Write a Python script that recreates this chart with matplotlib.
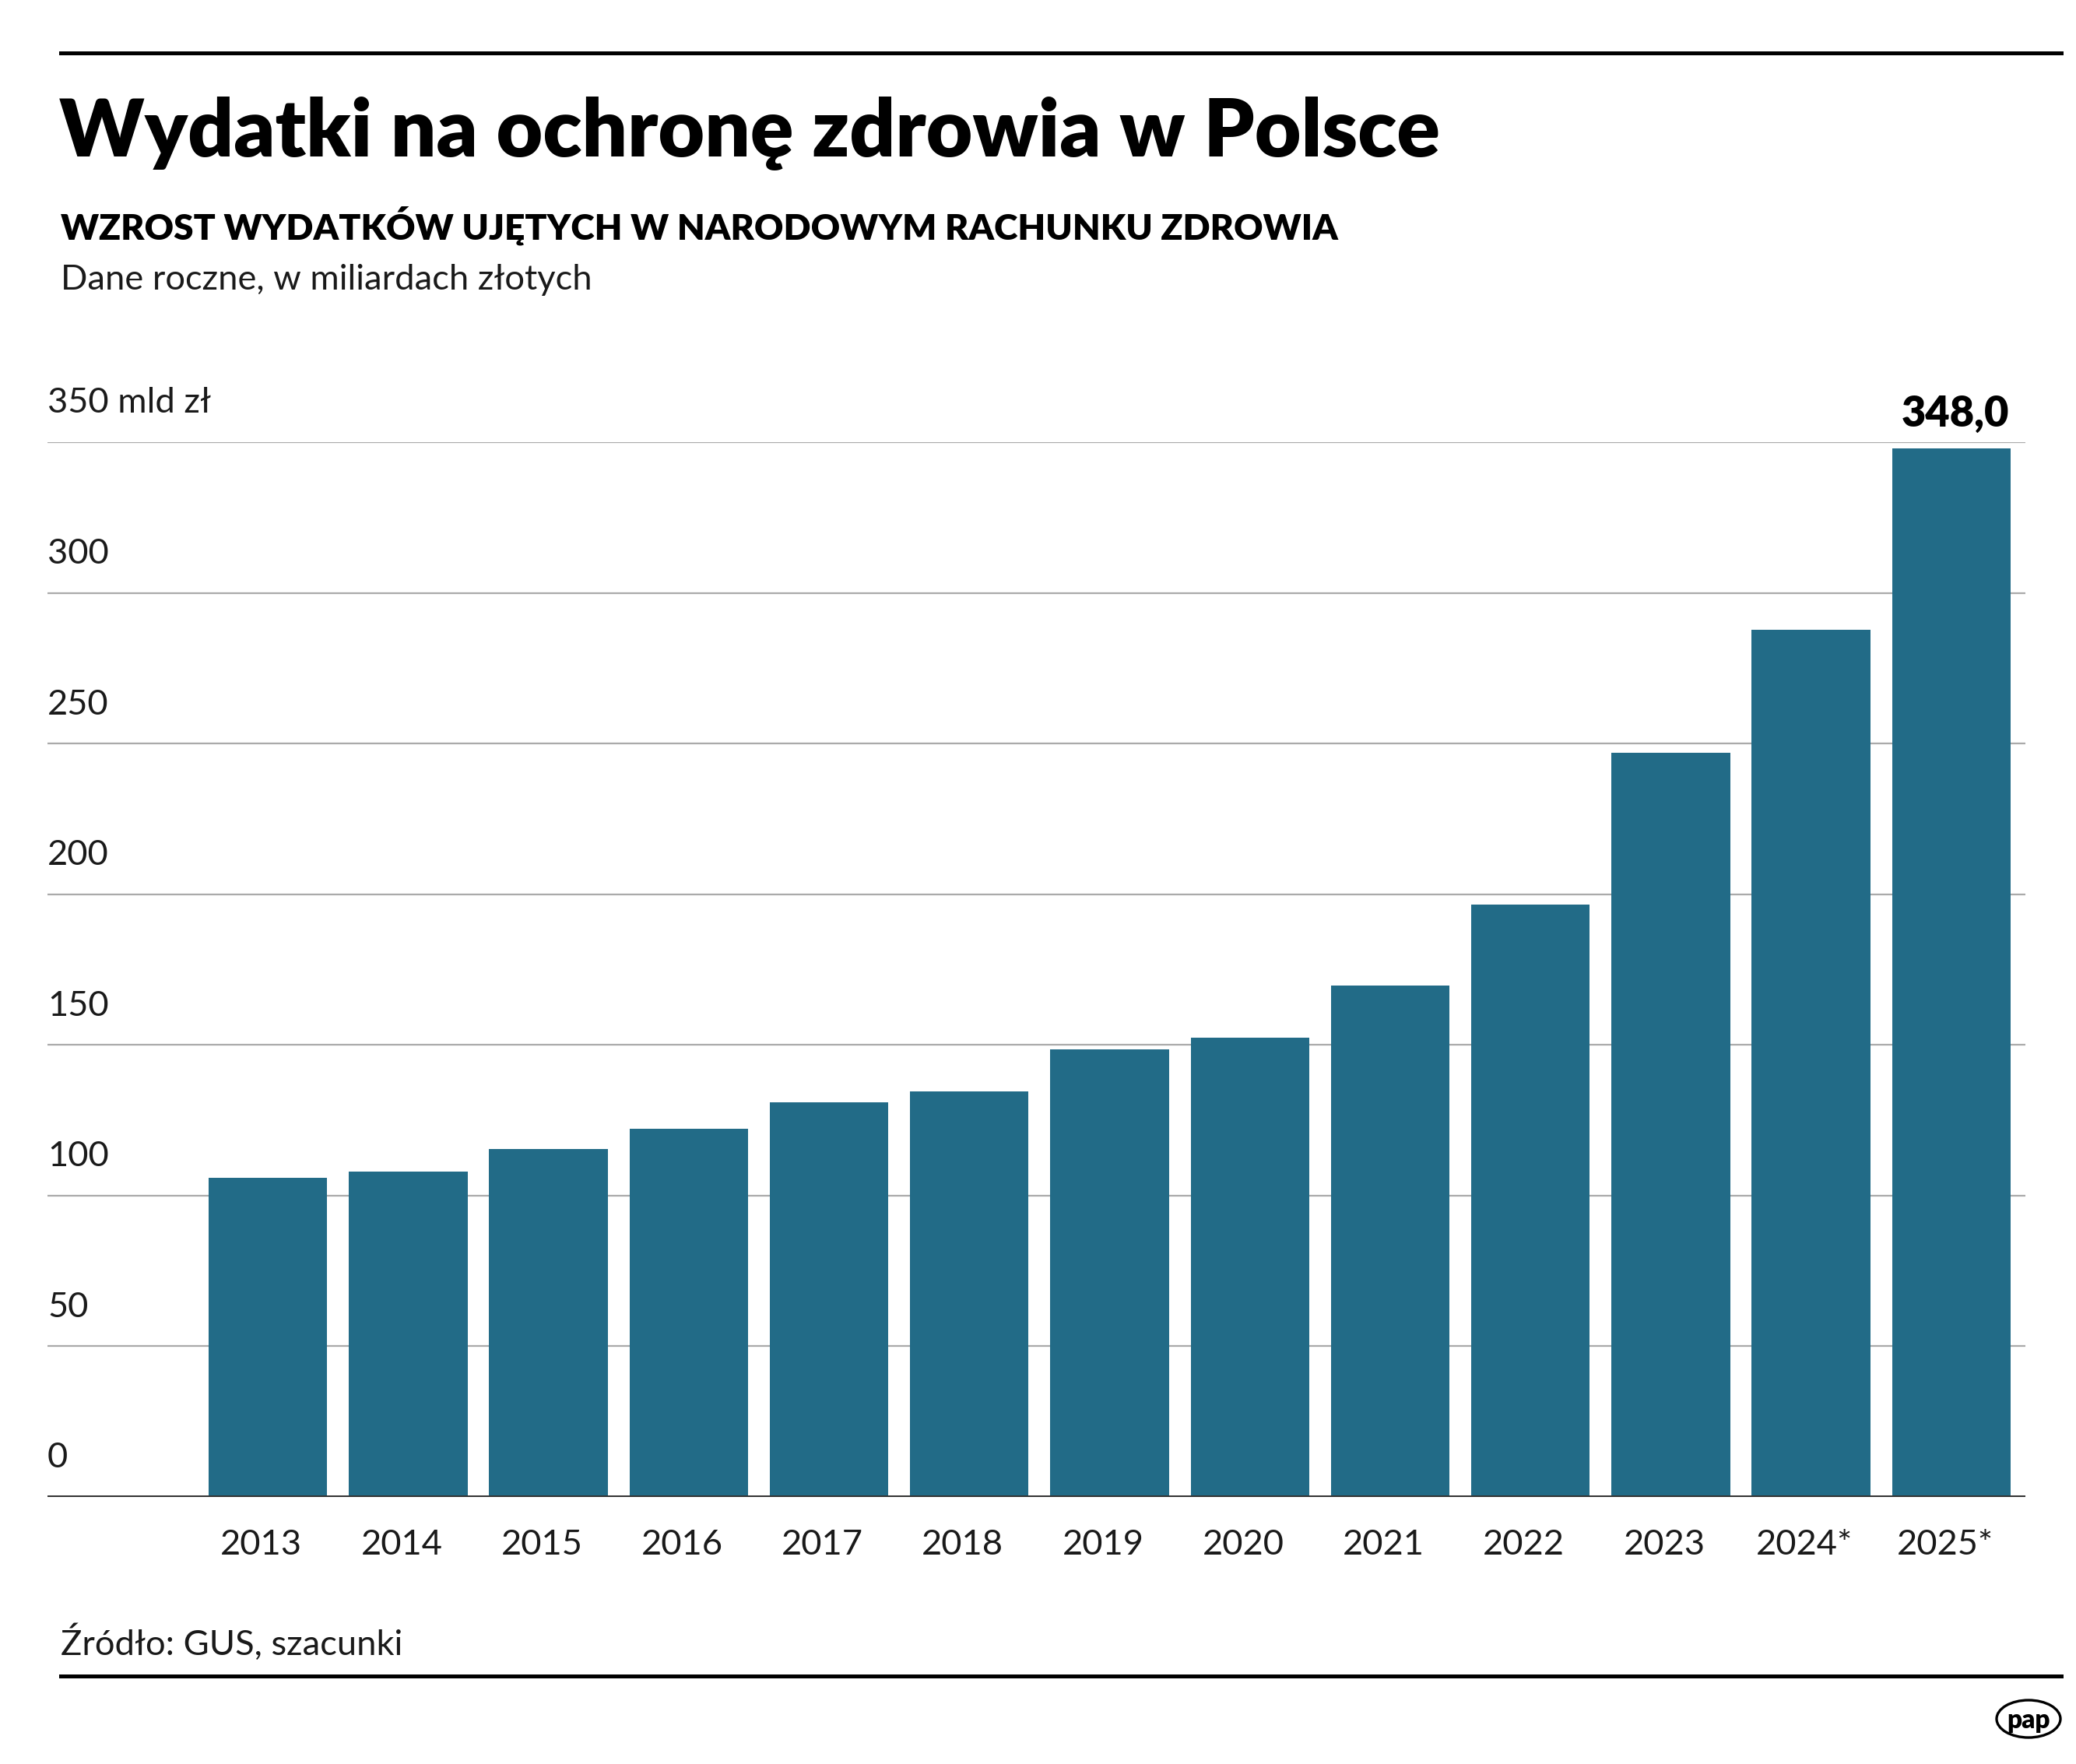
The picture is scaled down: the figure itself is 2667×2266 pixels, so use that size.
import numpy as np
import matplotlib
matplotlib.use("Agg")
import matplotlib.pyplot as plt
import matplotlib.transforms as mtransforms
from matplotlib.patches import Ellipse

# dane
years = ["2013", "2014", "2015", "2016", "2017", "2018", "2019",
         "2020", "2021", "2022", "2023", "2024*", "2025*"]
values = [105.9, 107.8, 115.4, 122.1, 130.9, 134.5, 148.4,
          152.3, 169.7, 196.4, 246.9, 287.7, 348.0]
y_ticks = [0, 50, 100, 150, 200, 250, 300, 350]
y_tick_labels = ["0", "50", "100", "150", "200", "250", "300", "350 mld zł"]
highlight_label = "348,0"

title = "Wydatki na ochronę zdrowia w Polsce"
subtitle = "WZROST WYDATKÓW UJĘTYCH W NARODOWYM RACHUNKU ZDROWIA"
note = "Dane roczne, w miliardach złotych"
source = "Źródło: GUS, szacunki"

BAR = "#226b87"
TXT = "#1a1a1a"
W, H = 2667, 2266
DPI = 200

plt.rcParams["font.family"] = ["Lato", "DejaVu Sans"]

fig = plt.figure(figsize=(W / DPI, H / DPI), dpi=DPI)


def fx(x):
    return x / W


def fy(y):
    return 1 - y / H


# linie poziome
fig.add_artist(plt.Line2D([fx(78), fx(2648)], [fy(68), fy(68)], color="black", lw=1.8))
fig.add_artist(plt.Line2D([fx(78), fx(2648)], [fy(2153), fy(2153)], color="black", lw=1.8))

# teksty
fig.text(fx(76), fy(201), title, fontsize=37.1, fontweight="heavy", va="baseline", ha="left")
fig.text(fx(78), fy(308), subtitle, fontsize=16.6, fontweight="heavy", va="baseline", ha="left")
fig.text(fx(78), fy(372), note, fontsize=16.3, va="baseline", ha="left", color=TXT)
fig.text(fx(78), fy(2126), source, fontsize=16.3, va="baseline", ha="left", color=TXT)

# wykres
y0, y350 = 1922.6, 568
ax = fig.add_axes([fx(61), fy(y0), (2602 - 61) / W, (y0 - y350) / H])
x = np.arange(len(years))
ax.bar(x, values, width=0.845, color=BAR, zorder=2)
ax.set_xlim(-1.571, 12.528)
ax.set_ylim(0, 350)

for v in y_ticks[1:]:
    ax.axhline(v, color="#aaaaaa", lw=0.8, zorder=1)
ax.axhline(0, color="#333333", lw=1.8, zorder=3)

for v, lab in zip(y_ticks, y_tick_labels):
    ax.annotate(lab, xy=(0, v), xycoords=("axes fraction", "data"),
                xytext=(0, 13.5), textcoords="offset points",
                ha="left", va="baseline", fontsize=16.3, color=TXT)

ax.annotate(highlight_label, xy=(x[-1], values[-1]), xytext=(2, 10),
            textcoords="offset points", ha="center", va="baseline",
            fontsize=19.5, fontweight="heavy", annotation_clip=False)

ax.set_xticks(x)
ax.set_xticklabels(years, fontsize=16.3, color=TXT)
ax.tick_params(axis="x", length=0, pad=15)
shift = mtransforms.ScaledTranslation(-3 / 72, 0, fig.dpi_scale_trans)
for lab in ax.get_xticklabels():
    lab.set_transform(lab.get_transform() + shift)
ax.set_yticks([])
for s in ax.spines.values():
    s.set_visible(False)

# logo pap
fig.add_artist(Ellipse((fx(2606), fy(2208)), 82 / W, 48 / H, transform=fig.transFigure,
                       facecolor="white", edgecolor="black", lw=1.2))
fig.text(fx(2606), fy(2210), "pap", fontsize=12, fontweight="heavy", ha="center", va="center")

fig.savefig("out.png", dpi=DPI)
